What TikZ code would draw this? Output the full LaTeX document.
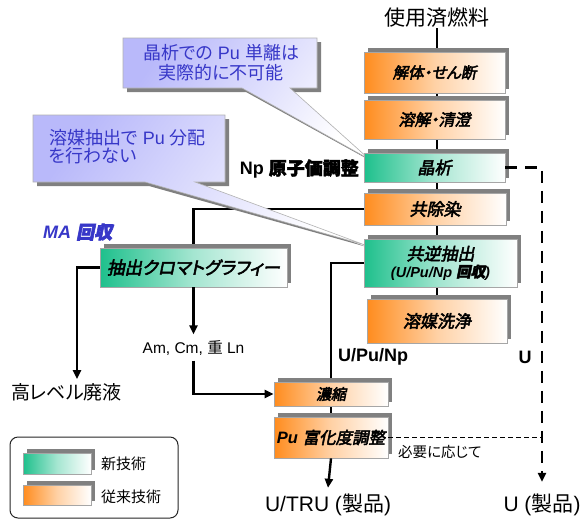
\documentclass[tikz,border=0pt]{standalone}
\usepackage{fontspec}
\setmainfont{Liberation Sans}
\newfontfamily\jp{Noto Sans CJK JP}[RawFeature=+palt]
\newfontfamily\jpbi{Noto Sans CJK JP}[RawFeature=+palt,FakeBold=3,FakeSlant=0.2]
\newfontfamily\jpb{Noto Sans CJK JP}[RawFeature=+palt,FakeBold=2.5]
\usetikzlibrary{arrows.meta,shadows,backgrounds}
\definecolor{orng}{RGB}{255,140,30}
\definecolor{grn}{RGB}{30,192,140}
\definecolor{callblue}{RGB}{55,55,200}
\definecolor{lav}{RGB}{185,185,250}
\definecolor{shd}{RGB}{128,128,128}
\newcommand{\fs}[2]{\fontsize{#1}{#2}\selectfont}
\begin{document}
\begin{tikzpicture}[x=1pt,y=-1pt,
  basebox/.style={draw=gray!70, line width=0.8pt,
    general shadow={fill=shd, shadow xshift=4pt, shadow yshift=4pt},
    inner sep=0pt, align=center, font=\fs{17}{19}},
  obox/.style={basebox, left color=orng, right color=white, middle color=orng!40!white},
  gbox/.style={basebox, left color=grn, right color=white, middle color=grn!40!white},
  conn/.style={line width=2.4pt},
  arr/.style={conn, -{Triangle[length=9pt,width=8pt]}},
  lbl/.style={inner sep=0pt},
  callout/.style={draw=gray!60, line width=0.6pt, top color=lav, bottom color=white, shading angle=55},
]
\useasboundingbox (0,0) rectangle (583,520);
\begin{scope}[on background layer]
\fill[white] (0,0) rectangle (583,520);
\end{scope}

% callouts
\fill[shd] ([shift={(4,4)}]123,38) -- ([shift={(4,4)}]317,38) -- ([shift={(4,4)}]317,88) -- ([shift={(4,4)}]290,88) -- (371,161) -- ([shift={(4,4)}]242,88) -- ([shift={(4,4)}]123,88) -- cycle;
\path[callout] (123,38) -- (317,38) -- (317,88) -- (290,88) -- (369,159) -- (242,88) -- (123,88) -- cycle;
\node[lbl, align=center, text=callblue, font=\fs{18}{20}] (c1) at (221,63) {{\jp 晶析での} Pu {\jp 単離は}\\{\jp 実際的に不可能}};

\fill[shd] ([shift={(4,4)}]33,115) -- ([shift={(4,4)}]225,115) -- ([shift={(4,4)}]225,182) -- ([shift={(4,4)}]195,182) -- (367,247) -- ([shift={(4,4)}]145,182) -- ([shift={(4,4)}]33,182) -- cycle;
\path[callout] (33,115) -- (225,115) -- (225,182) -- (195,182) -- (365,245) -- (145,182) -- (33,182) -- cycle;
\node[lbl, align=left, anchor=west, text=callblue, font=\fs{18}{18}] (c2) at (49,147) {{\jp 溶媒抽出で} Pu {\jp 分配}\\{\jp を行わない}};

% main column
\node[lbl, font=\fs{21}{23}] (t0) at (437,18) {\jp 使用済燃料};
\node[obox, minimum width=141, minimum height=41, font=\fs{15.5}{17}] (b1) at (434.5,72.5) {\jpbi 解体・せん断};
\node[obox, minimum width=141, minimum height=39, font=\fs{16}{18}] (b2) at (434.5,119.5) {\jpbi 溶解・清澄};
\node[gbox, minimum width=141, minimum height=29] (b3) at (434.5,167.5) {\jpbi 晶析};
\node[obox, minimum width=142, minimum height=32] (b4) at (435,209) {\jpbi 共除染};
\node[gbox, minimum width=153, minimum height=48] (b5) at (440.5,263) {{\jpbi 共逆抽出}\\[-2pt]{\fs{14.5}{15}\bfseries\itshape (U/Pu/Np {\jpbi 回収})}};
\node[obox, minimum width=140, minimum height=44] (b6) at (437,321) {\jpbi 溶媒洗浄};
\node[gbox, minimum width=187, minimum height=39, font=\fs{17.5}{19}] (b7) at (193.5,267.5) {\jpbi 抽出クロマトグラフィー};
\node[obox, minimum width=114, minimum height=24, font=\fs{15}{17}] (b8) at (331,394) {\jpbi 濃縮};
\node[obox, minimum width=114, minimum height=41, font=\fs{16.5}{18}] (b9) at (331,437.5) {{\bfseries\itshape Pu} {\jpbi 富化度調整}};

% labels
\node[lbl, anchor=east, font=\fs{18}{20}\bfseries] (np) at (359,169) {Np {\jpb 原子価調整}};
\node[lbl, anchor=west, text=callblue, font=\fs{18}{20}\bfseries\itshape] (ma) at (43,232) {MA {\jpbi 回収}};
\node[lbl, font=\fs{15.5}{17}] (am) at (193.5,348) {Am, Cm, {\jp 重} Ln};
\node[lbl, font=\fs{19}{21}] (hl) at (66.5,392) {\jp 高レベル廃液};
\node[lbl, anchor=west, font=\fs{18}{20}\bfseries] (upn) at (338,357) {U/Pu/Np};
\node[lbl, font=\fs{18}{20}\bfseries] (ul) at (525,357) {U};
\node[lbl, font=\fs{21}{23}] (utru) at (328,505) {U/TRU ({\jp 製品})};
\node[lbl, font=\fs{21}{23}] (uprod) at (542,505) {U ({\jp 製品})};
\node[lbl, anchor=west, font=\fs{14.5}{16}] (need) at (398,452) {\jp 必要に応じて};

% legend
\draw[line width=1pt, rounded corners=8pt, draw=black!85] (10,437) rectangle (178,518);
\node[gbox, minimum width=68, minimum height=21] (lg1) at (57,463.5) {};
\node[obox, minimum width=68, minimum height=20] (lg2) at (57,495) {};
\node[lbl, anchor=west, font=\fs{15}{17}] (lt1) at (101,464) {\jp 新技術};
\node[lbl, anchor=west, font=\fs{15}{17}] (lt2) at (101,497) {\jp 従来技術};

% connectors
\begin{scope}[on background layer]
\draw[conn] (t0.south) -- (t0.south |- b6.north);
\draw[conn] (b4.west) -- (b4.west -| b7.north) -- (b7.north);
\draw[conn] (b5.west) -- (b5.west -| b8.north) -- (b8.north);
\draw[conn] (b8.south) -- (b9.north);
\end{scope}
\draw[arr] (b7.south) -- ([yshift=6pt]am.north);
\draw[arr] ([yshift=-5pt]am.south) |- (b8.west);
\draw[arr] (b7.west) -| ([xshift=10.5pt,yshift=4pt]hl.north);
\draw[arr] (b9.south) -- ([yshift=6pt]utru.north);
\draw[conn, dash pattern=on 12pt off 8pt, -{Triangle[length=9pt,width=8pt]}] (b3.east) -- (b3.east -| uprod.north) -- ([yshift=12pt]uprod.north);
\draw[line width=1pt, dash pattern=on 5pt off 3pt] (b9.east) -- (b9.east -| uprod.north);
\end{tikzpicture}
\end{document}
